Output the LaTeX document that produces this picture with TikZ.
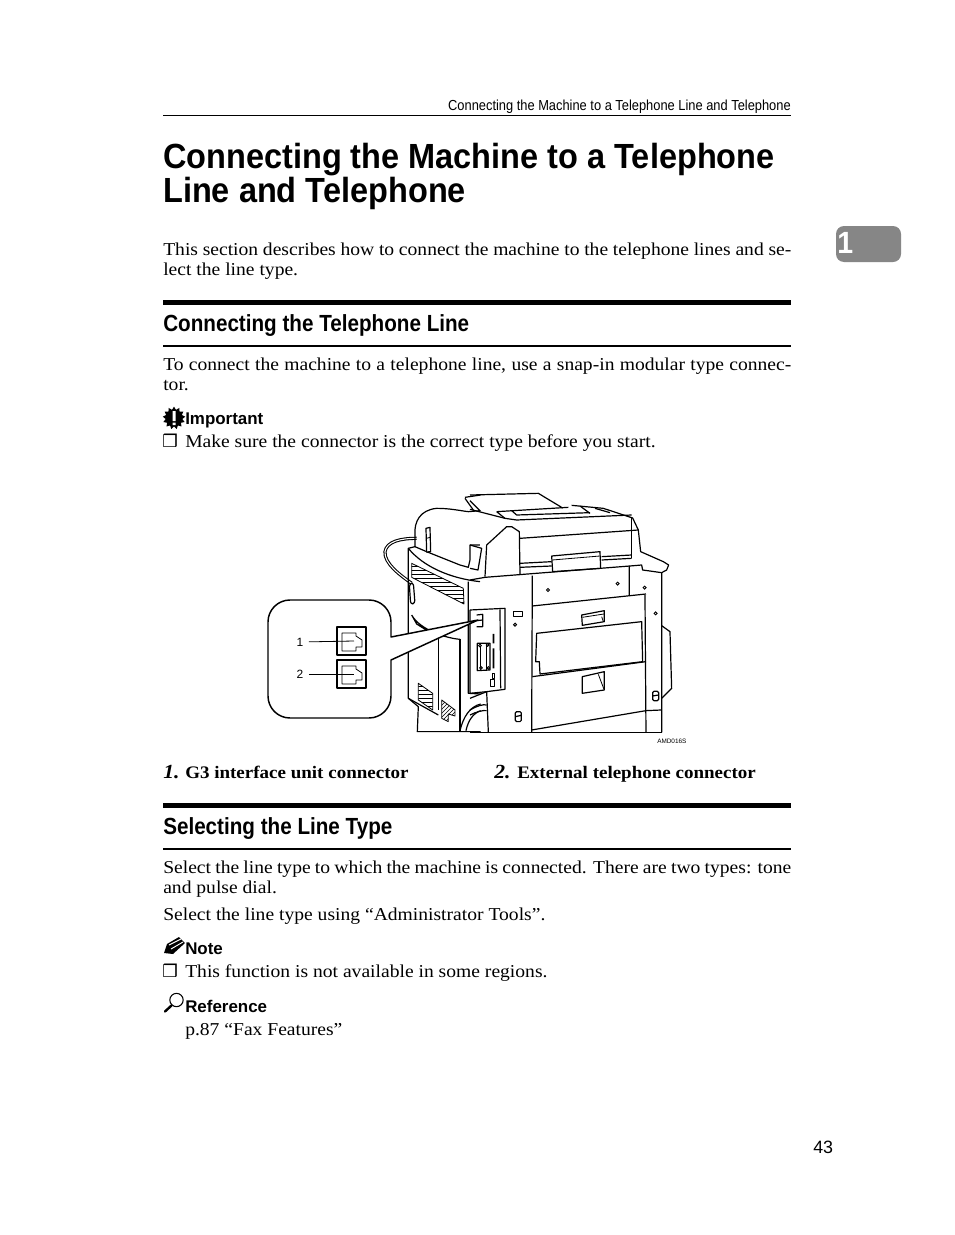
\documentclass[tikz,border=0pt]{standalone}
\usepackage{fontspec}
\setmainfont{Liberation Serif}[FakeStretch=1.08]
\newfontfamily\headfont{Liberation Sans}[FakeStretch=0.885]
\newfontfamily\titlefont{Liberation Sans}[FakeStretch=0.93]
\newfontfamily\tagfont{Liberation Sans}
\newfontfamily\dingfont{DejaVu Sans}
\usetikzlibrary{shapes.geometric,patterns}
\newcommand{\fullline}[1]{\makebox[471pt][s]{#1}}
\tikzset{
	txt/.style={anchor=base west,inner sep=0pt,font=\fontsize{13.6}{15}\selectfont},
	bold/.style={txt,font=\fontsize{13.2}{15}\selectfont\bfseries},
	tag/.style={anchor=base west,inner sep=0pt,font=\tagfont\fontsize{12.7}{15}\selectfont\bfseries},
	title/.style={anchor=base west,inner sep=0pt,font=\titlefont\fontsize{26.2}{30}\selectfont\bfseries},
	section/.style={anchor=base west,inner sep=0pt,font=\headfont\fontsize{17.5}{20}\selectfont\bfseries},
	bullet/.style={anchor=base west,inner sep=0pt,font=\dingfont\fontsize{13}{14}\selectfont},
	num/.style={anchor=base west,inner sep=0pt,font=\fontsize{15}{18}\selectfont\bfseries\itshape},
	callnum/.style={inner sep=0pt,font=\tagfont\fontsize{9}{10}\selectfont},
	ink/.style={draw=black,line width=.9pt,line join=round},
	fine/.style={draw=black,line width=.6pt,line join=round},
	hole/.style={draw=black,line width=.7pt,fill=white}
}
\begin{document}
\begin{tikzpicture}[x=.75pt,y=-.75pt]
	\useasboundingbox[fill=white] (0,0) rectangle (954,1235);
	% page head
	\node[anchor=base east,inner sep=0pt,font=\headfont\fontsize{10.9}{12}\selectfont] (runhead) at (791,110) {Connecting the Machine to a Telephone Line and Telephone};
	\fill (163,115) rectangle (791,116);
	\node[title] (titleone) at (163,168) {Connecting the Machine to a Telephone};
	\node[title] (titletwo) at (163,202) {Line and Telephone};
	\node[txt] (introone) at (163,255) {\fullline{This section describes how to connect the machine to the telephone lines and se-}};
	\node[txt] (introtwo) at (163,275) {lect the line type.};
	% thumb tab
	\fill[gray!95] (836,226) [rounded corners=6pt] rectangle (901,262);
	\node[anchor=base west,inner sep=0pt,text=white,font=\titlefont\fontsize{23}{26}\selectfont\bfseries] (tabnum) at (837,253) {1};
	% first section
	\fill (163,300) rectangle (791,304.5);
	\node[section] (secone) at (163,331) {Connecting the Telephone Line};
	\fill (163,345) rectangle (791,346.5);
	\node[txt] (connone) at (163,370) {\fullline{To connect the machine to a telephone line, use a snap-in modular type connec-}};
	\node[txt] (conntwo) at (163,390) {tor.};
	\node[star,star points=13,star point ratio=1.35,fill=black,minimum size=17pt,inner sep=0pt] (impicon) at (174,418) {};
	\fill[white] (172.5,411) rectangle (175.5,421) (172.5,422.5) rectangle (175.5,425);
	\node[tag] (imptag) at (185,424) {Important};
	\node[bullet] (impbox) at (162,447) {❒};
	\node[txt] (imptext) at (185,447) {Make sure the connector is the correct type before you start.};

	% machine, left part
	\begin{scope}[shift={(260,480)},scale=.3333]
		\draw[ink,line width=2.4pt] (470,175) .. controls (420,175) and (380,185) .. (375,215) .. controls (372,250) and (420,285) .. (455,310);
		\draw[white,line width=.8pt] (470,175) .. controls (420,175) and (380,185) .. (375,215) .. controls (372,250) and (420,285) .. (455,310);
		\draw[ink,fill=white,rounded corners=2pt] (448,312) -- (460,308) -- (465,370) -- (452,373) -- cycle;
		\draw[ink] (465,165) .. controls (462,125) and (480,90) .. (530,85) .. controls (570,85) and (600,92) .. (625,95) -- (662,92);
		\draw[ink] (465,165) -- (465,200) -- (445,205) -- (445,655) -- (475,680) -- (472,755) -- (662,755);
		\draw[ink] (445,205) .. controls (490,260) and (570,295) .. (660,305);
		\draw[ink] (465,200) -- (500,215) -- (600,255) -- (625,262) -- (630,240) -- (630,195) -- (660,195);
		\draw[ink] (615,52) -- (662,45) (615,55) -- (640,90);
		\draw[ink,fill=white] (498,145) -- (510,142) -- (512,215) -- (500,216) -- cycle;
		\draw[fine] (500,175) -- (510,172);
		\draw[ink] (625,305) -- (625,640) -- (662,642);
		\draw[fine,pattern=horizontal lines] (455,250) -- (610,325) -- (612,372) -- (455,292) -- cycle;
		\draw[ink] (455,405) .. controls (480,450) and (560,475) .. (600,478) (455,405) -- (470,432) -- (530,470);
		\draw[ink] (535,470) -- (535,690) (600,478) -- (600,752);
		\draw[ink] (445,655) -- (535,705);
		\draw[fine,pattern=horizontal lines] (475,610) -- (518,640) -- (518,690) -- (475,660) -- cycle;
		\draw[fine,pattern=north east lines] (545,660) -- (585,690) -- (585,708) -- (565,702) -- (565,725) -- (545,715) -- cycle;
		\draw[ink] (600,752) .. controls (610,710) and (630,680) .. (662,672);
		\draw[ink] (618,752) .. controls (625,720) and (640,700) .. (662,692);
	\end{scope}
	% machine, right part
	\begin{scope}[shift={(470,480)},scale=.3333]
		\draw[ink] (0,45) -- (205,40) -- (278,84);
		\draw[ink] (0,62) -- (30,92) (0,88) -- (105,115) -- (140,120) -- (485,105);
		\draw[ink] (80,95) -- (295,82) (80,95) -- (105,115) (125,92) -- (140,105) -- (360,98);
		\draw[ink] (305,76) -- (400,85) -- (488,114) -- (505,150) -- (512,215) -- (580,245) -- (596,255) -- (590,270) -- (575,278) -- (575,757);
		\draw[ink] (330,78) -- (360,100) (375,85) -- (420,98);
		\draw[ink] (110,140) -- (50,195) -- (45,290) (110,140) -- (125,140) -- (148,155) -- (150,285);
		\draw[ink] (0,195) -- (35,205) -- (24,270) -- (0,265);
		\draw[ink] (150,175) -- (505,150);
		\draw[ink] (485,115) -- (485,235);
		\draw[ink] (150,250) -- (245,245) (150,262) -- (245,258) (395,230) -- (485,225) (395,240) -- (485,235);
		\draw[ink,fill=white] (245,228) -- (390,215) -- (392,265) -- (248,275) -- cycle;
		\draw[fine] (247,240) -- (390,228);
		% body
		\draw[ink] (0,300) -- (45,292) -- (480,258) -- (515,255) -- (518,270) -- (575,278);
		\draw[ink] (187,287) -- (185,757) (478,258) -- (478,347) (525,345) -- (528,757);
		\draw[ink] (187,378) -- (528,342);
		\draw[ink] (200,460) -- (515,425) -- (518,545) -- (210,582) -- (208,545) -- (197,545) -- cycle;
		\draw[ink] (187,590) -- (528,545);
		\draw[ink] (185,750) -- (528,692) -- (575,690);
		\draw[ink] (0,757) -- (575,757);
		\draw[ink] (335,405) -- (403,392) -- (403,425) -- (337,436) -- cycle;
		\draw[fine] (337,412) -- (402,402) (395,410) -- (400,425);
		\draw[ink] (337,590) -- (403,575) -- (403,630) -- (337,640) -- cycle;
		\draw[fine] (385,583) -- (402,628);
		\draw[ink] (575,437) -- (600,455) -- (605,625) -- (575,655);
		\foreach \hx/\hy in {234/330,443/311,524/323,557/400,135/434} {
			\draw[hole] (\hx,\hy) circle (4.5);
		}
		\draw[ink] (130,394) rectangle (157,410);
		\draw[ink,rounded corners=1pt] (136,695) rectangle (154,725) (136,710) -- (154,706);
		\draw[ink,rounded corners=1pt] (548,634) rectangle (566,662) (548,648) -- (566,645);
		% connector panel
		\draw[ink] (0,390) -- (105,385) -- (105,628) -- (50,635) -- (55,757);
		\draw[ink] (90,388) -- (92,625) (0,655) -- (50,635);
		\draw[ink,fill=white] (22,490) -- (60,490) -- (60,570) -- (22,572) -- cycle;
		\draw[fine] (32,492) -- (32,570) (50,492) -- (50,570);
		\foreach \hx/\hy in {30/497,53/495,33/564,55/564} {
			\draw[hole] (\hx,\hy) circle (4);
		}
		\fill (68,462) rectangle (73,490) (68,505) rectangle (73,565);
		\draw[fine] (60,598) rectangle (74,618) (66,580) rectangle (72,596);
		\draw[ink] (20,405) -- (38,403) -- (38,440) -- (20,440) (20,422) -- (38,420);
		\draw[ink] (0,390) -- (0,640) -- (50,635);
		\draw[ink] (0,690) .. controls (20,678) and (40,672) .. (50,675) (0,705) .. controls (20,695) and (40,690) .. (50,692);
	\end{scope}
	\node[anchor=base west,inner sep=0pt,font=\tagfont\fontsize{4.8}{6}\selectfont] (figcode) at (657,743) {AMD016S};

	% callout with the two jacks
	\draw[ink,fill=white,line width=1.1pt,rounded corners=0pt] (478,620) -- (391,637) -- (391,622) arc (0:-90:22) -- (290,600) arc (-90:-180:22) -- (268,696) arc (180:90:22) -- (369,718) arc (90:0:22) -- (391,660) -- cycle;
	\foreach \jackname/\jacky in {one/627,two/660} {
		\begin{scope}[shift={(337,\jacky)}]
			\draw[ink] (0,0) rectangle (29,28);
			\draw[fine] (5,6) -- (19,6) -- (19,9) -- (25,13) -- (25,20) -- (19,20) -- (19,24) -- (5,24) -- cycle;
			\coordinate (jack\jackname) at (17,14);
		\end{scope}
	}
	\node[callnum] (lblone) at (300,642) {1};
	\node[callnum] (lbltwo) at (300,674) {2};
	\draw[fine,shorten <=4pt] (lblone) -- (jackone);
	\draw[fine,shorten <=4pt] (lbltwo) -- (jacktwo);

	% captions
	\node[num] (capnumone) at (163,778) {1.};
	\node[bold] (capone) at (185,778) {G3 interface unit connector};
	\node[num] (capnumtwo) at (494,778) {2.};
	\node[bold] (captwo) at (517,778) {External telephone connector};

	% second section
	\fill (163,803) rectangle (791,807.5);
	\node[section] (sectwo) at (163,834) {Selecting the Line Type};
	\fill (163,848) rectangle (791,849.5);
	\node[txt] (selone) at (163,873) {\fullline{Select the line type to which the machine is connected. There are two types: tone}};
	\node[txt] (seltwo) at (163,893) {and pulse dial.};
	\node[txt] (selthree) at (163,920) {Select the line type using “Administrator Tools”.};
	% pencil
	\fill (164,953) -- (167,944) -- (179,937) -- (185,943) -- (173,954) -- cycle;
	\draw[white,line width=.7pt] (169,945) -- (181,939) (171,949) -- (183,942);
	\node[tag] (notetag) at (185,954) {Note};
	\node[bullet] (notebox) at (162,977) {❒};
	\node[txt] (notetext) at (185,977) {This function is not available in some regions.};
	% magnifier
	\draw[line width=.8pt] (176.5,1000) circle (5pt);
	\draw[line width=1.8pt,line cap=round] (171.5,1005.5) -- (165,1011.5);
	\node[tag] (reftag) at (185,1012) {Reference};
	\node[txt] (reftext) at (185,1035) {p.87 “Fax Features”};
	\node[anchor=base west,inner sep=0pt,font=\tagfont\fontsize{13.4}{15}\selectfont] (pagenum) at (813,1153) {43};
\end{tikzpicture}
\end{document}
